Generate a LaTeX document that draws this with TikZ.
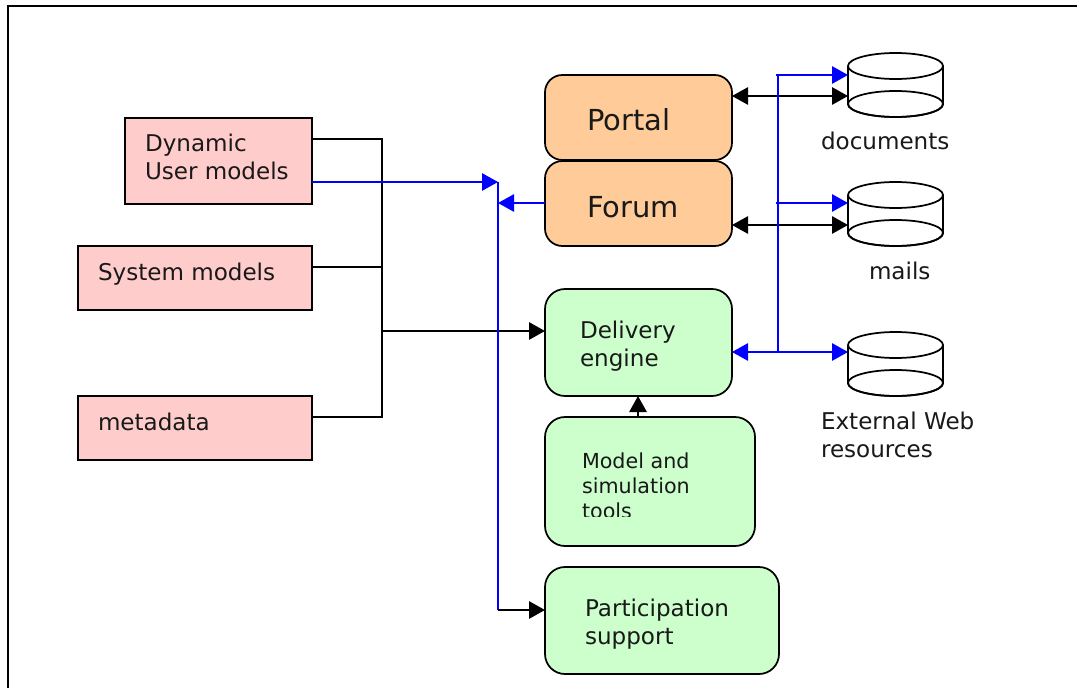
\documentclass[tikz,border=0pt]{standalone}
\usepackage{fontspec}
\setmainfont{DejaVu Sans}
\usetikzlibrary{arrows.meta}
\definecolor{pinkbox}{HTML}{FFCCCC}
\definecolor{orangebox}{HTML}{FFCC99}
\definecolor{greenbox}{HTML}{CCFFCC}
\definecolor{linkblue}{HTML}{0000FF}
\tikzset{
  x=0.75pt,y=-0.75pt,
  boxbase/.style={draw=black,inner sep=0pt,outer sep=0pt},
  pinkrect/.style={boxbase,rectangle,fill=pinkbox},
  orangeround/.style={boxbase,rectangle,rounded corners=13pt,fill=orangebox},
  greenround/.style={boxbase,rectangle,rounded corners=15pt,fill=greenbox},
  lbl/.style={inner sep=0pt,outer sep=0pt,anchor=base west,align=left,text=black!90,font=\fontsize{17.3}{21}\selectfont},
  lblbig/.style={lbl,font=\fontsize{21.7}{26}\selectfont},
  lblsmall/.style={lbl,font=\fontsize{15.5}{18.75}\selectfont},
  blk/.style={draw=black,-{Triangle[length=12pt,width=13pt]}},
  blkboth/.style={draw=black,{Triangle[length=12pt,width=13pt]}-{Triangle[length=12pt,width=13pt]}},
  blu/.style={draw=linkblue,-{Triangle[length=12pt,width=13pt]}},
  bluboth/.style={draw=linkblue,{Triangle[length=12pt,width=13pt]}-{Triangle[length=12pt,width=13pt]}},
  bluline/.style={draw=linkblue},
  blkline/.style={draw=black},
}
% box with corners given in pixels: style, name, x0, y0, x1, y1
\newcommand\pxbox[6]{%
  \pgfmathsetmacro\bw{(#5-#3)*0.75}%
  \pgfmathsetmacro\bh{(#6-#4)*0.75}%
  \node[#1,minimum width=\bw pt,minimum height=\bh pt] (#2) at ({(#3+#5)/2},{(#4+#6)/2}) {};}
% drum: name, x0, y0 (top of the drum)
\newcommand\drum[3]{%
  \node[inner sep=0pt,outer sep=0pt,minimum width=71.25pt,minimum height=47.25pt] (#1) at (#2+47.5,#3+31.5) {};
  \draw[fill=white] (#2,#3+13) -- (#2,#3+51) arc[start angle=180,end angle=360,x radius=35.625pt,y radius=9.75pt] -- (#2+95,#3+13);
  \draw[fill=white] (#2+47.5,#3+13) ellipse[x radius=35.625pt,y radius=9.75pt];
  \draw (#2+47.5,#3+51) ellipse[x radius=35.625pt,y radius=9.75pt];}
\begin{document}
\begin{tikzpicture}[line width=1.3pt]
\useasboundingbox (0,0) rectangle (1077,688);
\fill[white] (0,0) rectangle (1077,688);
% frame: left and top edges only
\coordinate (fa) at (8,688);
\coordinate (fb) at (8,6);
\coordinate (fc) at (1077,6);
\draw[black,line width=1.6pt] (fa) -- (fb) -- (fc);

\coordinate (busblack) at (382,139);
\coordinate (busleft) at (498,182);
\coordinate (busright) at (778,75);

% left column
\pxbox{pinkrect}{dyn}{125}{118}{312}{204}
\pxbox{pinkrect}{sys}{78}{246}{312}{310}
\pxbox{pinkrect}{meta}{78}{396}{312}{460}
% centre column
\pxbox{orangeround}{portal}{545}{75}{732}{160}
\pxbox{orangeround}{forum}{545}{161}{732}{246}
\pxbox{greenround}{deliv}{545}{289}{732}{396}
\pxbox{greenround}{model}{545}{417}{755}{546}
\pxbox{greenround}{part}{545}{567}{779}{674}
% drums
\drum{docs}{848}{53}
\drum{mails}{848}{182}
\drum{ext}{848}{332}

% black connectors, left
\coordinate (js) at (382,267);
\coordinate (jt) at (382,417);
\draw[blkline] (dyn.east |- busblack) -- (busblack) -- (jt) -- (meta.east |- jt);
\draw[blkline] (sys.east |- js) -- (js);
\coordinate (jd) at (382,331);
\draw[blk] (jd) -- (deliv.west |- jd);
% blue connectors, left
\draw[blu] (dyn.east |- busleft) -- (busleft);
\coordinate (jf) at (498,203);
\draw[blu] (forum.west |- jf) -- (jf);
\coordinate (jp) at (498,610);
\draw[bluline] (busleft) -- (jp);
\draw[blk] (jp) -- (part.west |- jp);
% up arrow
\coordinate (ju) at (638,417);
\draw[blk] (ju) -- (deliv.south -| ju);
% right side, black
\coordinate (ra) at (732,96);
\coordinate (rb) at (732,225);
\coordinate (rc) at (732,352);
\draw[blkboth] (portal.east |- ra) -- (docs.west |- ra);
\draw[blkboth] (forum.east |- rb) -- (mails.west |- rb);
% right side, blue
\coordinate (jm) at (778,203);
\coordinate (je) at (778,352);
\draw[bluline] (busright) -- (je);
\draw[blu] ([xshift=-1.5pt]busright) -- (docs.west |- busright);
\draw[blu] ([xshift=-1.5pt]jm) -- (mails.west |- jm);
\draw[bluboth] (deliv.east |- rc) -- (ext.west |- rc);

% labels
\node[lbl] (tdyn) at (145,180) {Dynamic\\User models};
\node[lbl] (tsys) at (98,280) {System models};
\node[lbl] (tmeta) at (98,430) {metadata};
\node[lblbig] (tportal) at (587,131) {Portal};
\node[lblbig] (tforum) at (587,217) {Forum};
\node[lbl] (tdeliv) at (580,366) {Delivery\\engine};
\begin{scope}
\clip (560,440) rectangle (740,516);
\node[lblsmall] (tmodel) at (582,518) {Model and\\simulation\\tools};
\end{scope}
\node[lbl] (tpart) at (585,644) {Participation\\support};
\node[lbl] (tdocs) at (821,150) {documents};
\node[lbl] (tmails) at (869,279) {mails};
\node[lbl] (textw) at (821,457) {External Web\\resources};
\end{tikzpicture}
\end{document}
